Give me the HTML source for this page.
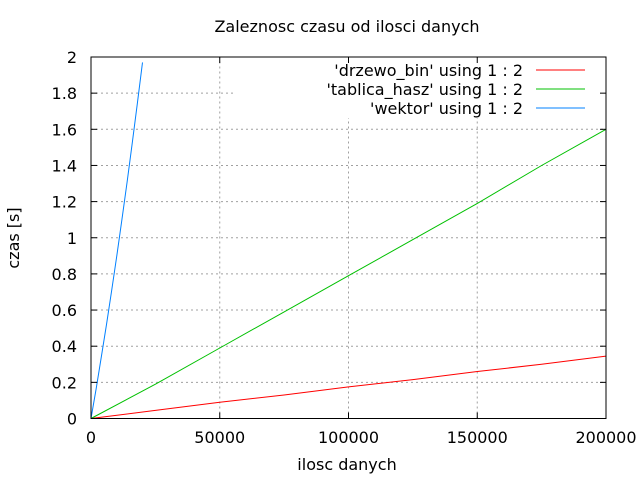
<!DOCTYPE html>
<html><head><meta charset="utf-8"><style>
body{margin:0;background:#fff}
svg{display:block;font-family:"DejaVu Sans","Liberation Sans",sans-serif}
</style></head><body>
<svg id="c" width="640" height="480">
<g id="grid"></g>
<rect x="236" y="58" width="368" height="60" fill="#fff"/>
<g id="series"></g>
<rect x="91" y="57" width="515" height="361.5" fill="none" stroke="#000" stroke-width="1"/>
<g id="axes"></g>
<text x="347" y="32" font-size="16" text-anchor="middle">Zaleznosc czasu od ilosci danych</text>
<text x="347" y="470" font-size="16" text-anchor="middle">ilosc danych</text>
<text transform="translate(19,238) rotate(-90)" font-size="16" text-anchor="middle">czas [s]</text>
<g id="legend"></g>
</svg>
<script>
const xTicks=[0,50000,100000,150000,200000];
const yTicks=[0,0.2,0.4,0.6,0.8,1,1.2,1.4,1.6,1.8,2];
const yTickLabels=["0","0.2","0.4","0.6","0.8","1","1.2","1.4","1.6","1.8","2"];
const seriesNames=["'drzewo_bin' using 1 : 2","'tablica_hasz' using 1 : 2","'wektor' using 1 : 2"];
const drzewoX=[0,25000,50000,75000,100000,125000,150000,175000,200000];
const drzewoY=[0,0.045,0.09,0.13,0.175,0.215,0.26,0.30,0.345];
const haszX=[0,25000,50000,75000,100000,125000,150000,175000,200000];
const haszY=[0,0.19,0.39,0.59,0.79,0.99,1.19,1.40,1.60];
const wektorX=[0,2000,4000,6000,8000,10000,12000,14000,16000,18000,20000];
const wektorY=[0,0.166,0.34,0.52,0.706,0.9,1.1,1.308,1.522,1.741,1.97];
const colors=["#ff0000","#00c000","#0080ff"];
const X0=91,X1=606,Y0=418.5,Y1=57;
const sx=v=>X0+(v-0)/(200000)*(X1-X0);
const sy=v=>Y0-(v/2)*(Y0-Y1);
const NS="http://www.w3.org/2000/svg";
function mk(t,a,p){const e=document.createElementNS(NS,t);for(const k in a)e.setAttribute(k,a[k]);p.appendChild(e);return e;}
const grid=document.getElementById('grid'),axes=document.getElementById('axes'),ser=document.getElementById('series'),leg=document.getElementById('legend');
xTicks.forEach((v,i)=>{
 const x=sx(v);
 if(i>0&&i<xTicks.length-1){const g=mk('line',{x1:x,x2:x,y1:Y0,y2:Y1,stroke:'#a0a0a0','stroke-dasharray':'2,3'},grid);
 
 }
 mk('line',{x1:x,x2:x,y1:Y0,y2:Y0-6,stroke:'#000'},axes);
 mk('line',{x1:x,x2:x,y1:Y1,y2:Y1+6,stroke:'#000'},axes);
 const t=mk('text',{x:x,y:443,'font-size':16,'text-anchor':'middle'},axes);t.textContent=String(v);
 
 
});
yTicks.forEach((v,i)=>{
 const y=sy(v);
 if(i>0&&i<yTicks.length-1){const g=mk('line',{x1:X0,x2:X1,y1:y,y2:y,stroke:'#a0a0a0','stroke-dasharray':'2,3'},grid);
 
 }
 mk('line',{x1:X0,x2:X0+6,y1:y,y2:y,stroke:'#000'},axes);
 mk('line',{x1:X1,x2:X1-6,y1:y,y2:y,stroke:'#000'},axes);
 const t=mk('text',{x:77,y:y+6,'font-size':16,'text-anchor':'end'},axes);t.textContent=yTickLabels[i];
 
 
});
const all=[[drzewoX,drzewoY],[haszX,haszY],[wektorX,wektorY]];
const snames=['drzewo-bin-line','tablica-hasz-line','wektor-line'];
all.forEach((s,k)=>{
 const pts=s[0].map((x,i)=>sx(x).toFixed(1)+','+sy(s[1][i]).toFixed(1)).join(' ');
 const p=mk('polyline',{points:pts,fill:'none',stroke:colors[k],'stroke-width':1},ser);
 
 
 const ly=70+k*19;
 const t=mk('text',{x:523,y:ly+6,'font-size':16,'text-anchor':'end'},leg);t.textContent=seriesNames[k];
 
 
 mk('line',{x1:536,x2:585,y1:ly,y2:ly,stroke:colors[k]},leg);
});
</script>
</body></html>
